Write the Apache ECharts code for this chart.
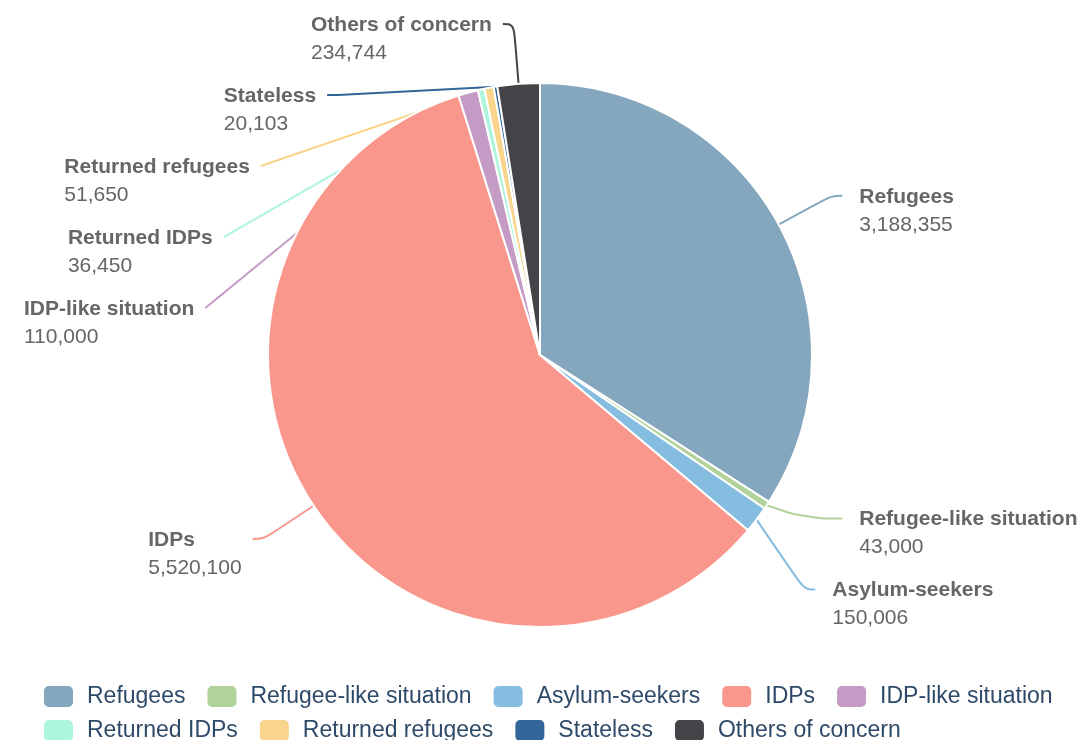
<!DOCTYPE html>
<html>
<head>
<meta charset="utf-8">
<script src="https://cdn.jsdelivr.net/npm/echarts@6/dist/echarts.min.js"></script>
<style>
html,body{margin:0;padding:0;background:#fff;}
#chart{width:1090px;height:740px;}
</style>
</head>
<body>
<div id="chart"></div>
<script>
const categories = ['Refugees','Refugee-like situation','Asylum-seekers','IDPs','IDP-like situation','Returned IDPs','Returned refugees','Stateless','Others of concern'];
const values = [3188355, 43000, 150006, 5520100, 110000, 36450, 51650, 20103, 234744];
const colors = ['#84a7bd','#b1d39b','#85bde1','#f9978c','#c49bc5','#aef6db','#f8d48c','#336699','#444348'];

const FONT = '"Liberation Sans", Arial, Helvetica, sans-serif';
const fmt = v => v.toLocaleString('en-US');

// per-slice connector tweak (styling only)
const lineTweak = { 'Refugee-like situation': { length: 24, length2: 37 } };

const chart = echarts.init(document.getElementById('chart'), null, {renderer: 'canvas'});
chart.setOption({
  animation: false,
  color: colors,
  legend: {
    left: 37,
    top: 679,
    width: 1045,
    itemWidth: 31,
    itemHeight: 23,
    itemGap: 9,
    icon: 'roundRect',
    textStyle: {
      fontFamily: FONT,
      fontSize: 23,
      lineHeight: 23,
      color: '#2e4a68',
      padding: [0, 11, 0, 8]
    },
    data: categories
  },
  series: [{
    type: 'pie',
    center: [540, 355],
    radius: 272,
    startAngle: 90,
    clockwise: true,
    left: 0, right: 0, top: 0, bottom: 0,
    itemStyle: { borderColor: '#ffffff', borderWidth: 2 },
    label: {
      show: true,
      position: 'outer',
      overflow: 'none',
      padding: [30, 6, 0, 12],
      minMargin: 22,
      distanceToLabelLine: 5,
      formatter: p => '{n|' + p.name + '}\n{v|' + fmt(p.value) + '}',
      rich: {
        n: { fontFamily: FONT, fontWeight: 'bold', fontSize: 21, lineHeight: 28, color: '#666666', align: 'left' },
        v: { fontFamily: FONT, fontSize: 21, lineHeight: 28, color: '#666666', align: 'left' }
      }
    },
    labelLine: {
      show: true,
      length: 60,
      length2: 11,
      smooth: 0.4,
      lineStyle: { width: 2 }
    },
    emphasis: { disabled: true },
    data: categories.map((c, i) => {
      const d = { name: c, value: values[i] };
      if (lineTweak[c]) d.labelLine = lineTweak[c];
      return d;
    })
  }]
});
</script>
</body>
</html>
